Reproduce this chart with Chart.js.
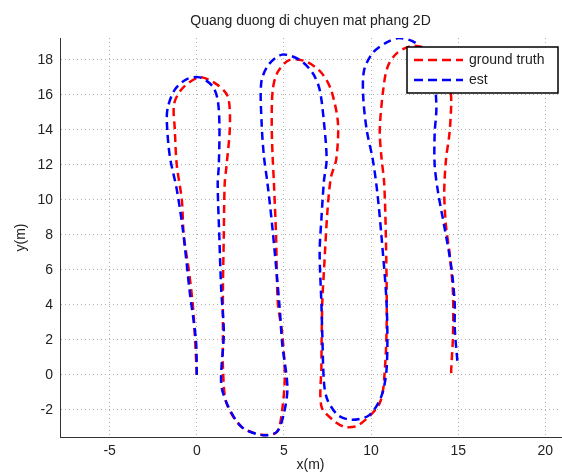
<!DOCTYPE html>
<html>
<head>
<meta charset="utf-8">
<script src="https://cdn.jsdelivr.net/npm/chart.js@4.4.1/dist/chart.umd.min.js"></script>
<style>
  body { margin: 0; background: #fff; }
  #wrap { width: 562px; height: 476px; }
</style>
</head>
<body>
<div id="wrap"><canvas id="grafico" width="562" height="476"></canvas></div>
<script>
// dados
const gtX = [0, -0.1, -0.23, -0.46, -0.75, -0.86, -1.15, -1.26, -1.3, -0.8, 0.17, 1.15, 1.78, 1.9, 1.7, 1.6, 1.55, 1.5, 1.5, 1.5, 1.7, 2.6, 3.8, 4.6, 4.9, 5.05, 4.9, 4.65, 4.55, 4.42, 4.35, 4.3, 4.36, 4.64, 5.33, 6.3, 7.16, 7.7, 8.1, 8.0, 7.7, 7.5, 7.3, 7.2, 7.15, 7.15, 7.8, 8.5, 9.3, 10.5, 10.8, 10.9, 10.85, 10.75, 10.6, 10.5, 10.7, 10.95, 11.5, 12.4, 13.5, 14.2, 14.55, 14.6, 14.5, 14.3, 14.2, 14.3, 14.5, 14.7, 14.7, 14.6, 14.6];
const gtY = [0, 2.0, 4.0, 6.0, 8.0, 10.0, 12.0, 14.0, 15.5, 16.4, 17.0, 16.6, 15.9, 14.2, 11.9, 10.9, 8.0, 4.9, 2.0, 0.46, -1.6, -3.0, -3.43, -3.26, -2.0, -0.1, 2.4, 4.1, 7.9, 11.1, 12.5, 14.4, 16.3, 17.3, 18.0, 17.9, 17.25, 16.3, 14.4, 12.3, 11.3, 9.4, 6.0, 4.1, 0.46, -1.8, -2.57, -2.97, -2.86, -1.6, 0.46, 3.3, 7.9, 11.0, 12.4, 14.0, 16.3, 17.6, 18.4, 18.8, 18.5, 17.5, 16.3, 15.5, 13.8, 12.3, 10.4, 8.5, 7.0, 4.7, 2.2, 0.3, 0.0];

const estX = [0, -0.05, -0.4, -0.8, -1.15, -1.55, -1.72, -1.66, -1.26, -0.57, 0.17, 0.9, 1.2, 1.3, 1.26, 1.2, 1.3, 1.4, 1.55, 1.4, 1.8, 2.6, 3.8, 4.6, 5.0, 5.2, 4.9, 4.75, 4.35, 4.05, 3.85, 3.72, 3.7, 4.1, 4.9, 5.9, 6.65, 7.05, 7.3, 7.45, 7.3, 7.15, 7.05, 7.15, 7.2, 7.3, 7.5, 8.1, 8.9, 9.9, 10.6, 10.9, 10.9, 10.6, 10.35, 10.1, 9.75, 9.55, 9.6, 10.1, 10.9, 11.6, 12.5, 13.2, 13.6, 13.75, 13.65, 13.65, 13.85, 14.2, 14.6, 14.8, 14.8, 14.95, 15.0];
const estY = [0, 2.0, 4.7, 8.3, 10.6, 12.5, 14.5, 15.3, 16.3, 16.9, 17.0, 16.5, 15.7, 14.2, 11.9, 10.9, 7.7, 4.9, 2.4, -0.5, -1.8, -3.0, -3.45, -3.25, -2.2, -0.7, 1.8, 3.9, 8.3, 11.0, 12.5, 14.4, 16.7, 17.7, 18.3, 18.0, 17.25, 16.3, 14.4, 12.3, 11.1, 8.9, 7.0, 4.1, 2.4, -0.46, -1.43, -2.3, -2.57, -2.3, -1.2, 0.46, 3.9, 7.9, 10.5, 12.3, 14.0, 15.9, 17.4, 18.4, 19.0, 19.25, 19.0, 18.2, 17.0, 15.3, 13.8, 12.0, 10.4, 8.5, 6.2, 4.1, 2.7, 0.86, 0.57];

const xTicks = [-5, 0, 5, 10, 15, 20];
const yTicks = [-2, 0, 2, 4, 6, 8, 10, 12, 14, 16, 18];

const fonte = "'Liberation Sans', Arial, Helvetica, sans-serif";

function pontos(xs, ys) {
  return xs.map((x, i) => ({ x: x, y: ys[i] }));
}

// titulo e legenda desenhados por cima
const extras = {
  id: 'extras',
  afterDatasetsDraw(chart) {
    const ctx = chart.ctx;
    const area = chart.chartArea;
    ctx.save();
    ctx.fillStyle = '#222';
    ctx.font = '14px ' + fonte;
    ctx.textAlign = 'center';
    ctx.textBaseline = 'middle';
    ctx.fillText('Quang duong di chuyen mat phang 2D', (area.left + area.right) / 2, 21);

    // legenda
    const bx = 407, by = 47, bw = 151, bh = 46;
    ctx.fillStyle = '#fff';
    ctx.fillRect(bx, by, bw, bh);
    ctx.strokeStyle = '#000';
    ctx.lineWidth = 1.5;
    ctx.strokeRect(bx, by, bw, bh);

    const itens = [
      { label: 'ground truth', cor: 'red', y: by + 13 },
      { label: 'est', cor: 'blue', y: by + 33 }
    ];
    itens.forEach(it => {
      ctx.beginPath();
      ctx.setLineDash([9, 5]);
      ctx.strokeStyle = it.cor;
      ctx.lineWidth = 2.5;
      ctx.moveTo(bx + 7, it.y);
      ctx.lineTo(bx + 56, it.y);
      ctx.stroke();
      ctx.setLineDash([]);
      ctx.fillStyle = '#222';
      ctx.textAlign = 'left';
      ctx.fillText(it.label, bx + 62, it.y);
    });
    ctx.restore();
  }
};

const grafico = new Chart(document.getElementById('grafico'), {
  type: 'scatter',
  data: {
    datasets: [
      {
        label: 'ground truth',
        data: pontos(gtX, gtY),
        showLine: true,
        borderColor: 'red',
        borderWidth: 2.5,
        borderDash: [8, 5],
        pointRadius: 0,
        tension: 0.3,
        order: 2
      },
      {
        label: 'est',
        data: pontos(estX, estY),
        showLine: true,
        borderColor: 'blue',
        borderWidth: 2.5,
        borderDash: [8, 5],
        pointRadius: 0,
        tension: 0.3,
        order: 1
      }
    ]
  },
  options: {
    responsive: false,
    animation: false,
    layout: { padding: { top: 38, right: 1, left: 0, bottom: 0 } },
    plugins: {
      legend: { display: false },
      tooltip: { enabled: false }
    },
    scales: {
      x: {
        type: 'linear',
        min: -7.85,
        max: 20.9,
        afterBuildTicks: s => { s.ticks = xTicks.map(v => ({ value: v })); },
        afterFit: s => { s.height = 39; },
        grid: { color: '#b0b0b0', drawTicks: false },
        border: { display: true, color: '#333', width: 1, dash: [1, 3] },
        ticks: { color: '#222', font: { family: fonte, size: 14 }, padding: 6, maxRotation: 0 },
        title: { display: true, text: 'x(m)', color: '#222', font: { family: fonte, size: 14 }, padding: 2 }
      },
      y: {
        type: 'linear',
        min: -3.55,
        max: 19.25,
        afterBuildTicks: s => { s.ticks = yTicks.map(v => ({ value: v })); },
        afterFit: s => { s.width = 60; },
        grid: { color: '#b0b0b0', drawTicks: false },
        border: { display: true, color: '#333', width: 1, dash: [1, 3] },
        ticks: { color: '#222', font: { family: fonte, size: 14 }, padding: 7 },
        title: { display: true, text: 'y(m)', color: '#222', font: { family: fonte, size: 14 }, padding: 13 }
      }
    }
  },
  plugins: [extras]
});
</script>
</body>
</html>
